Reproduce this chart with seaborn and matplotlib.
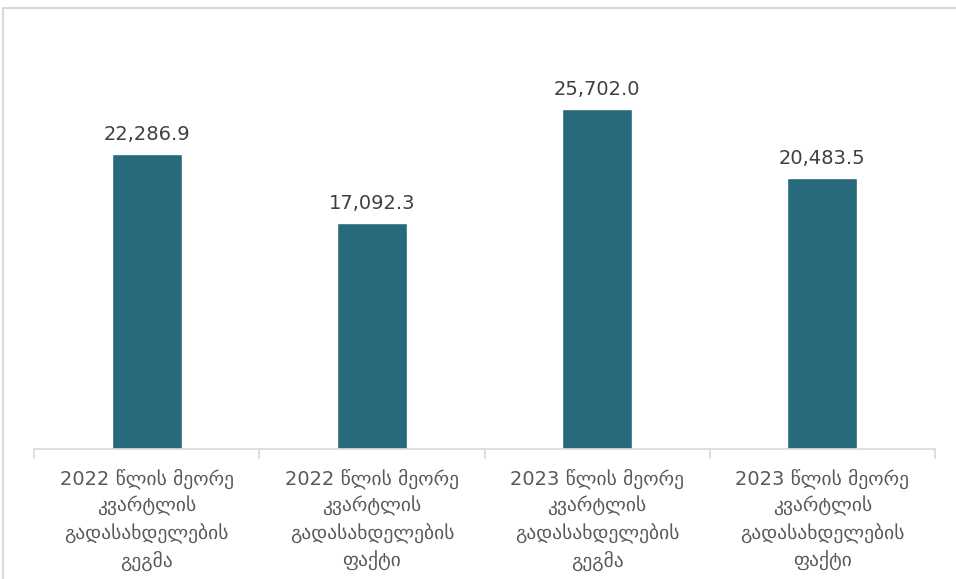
import matplotlib
matplotlib.use("Agg")
import matplotlib.pyplot as plt
import seaborn as sb
import pandas as pd

categories = [
    "2022 წლის მეორე\nკვარტლის\nგადასახდელების\nგეგმა",
    "2022 წლის მეორე\nკვარტლის\nგადასახდელების\nფაქტი",
    "2023 წლის მეორე\nკვარტლის\nგადასახდელების\nგეგმა",
    "2023 წლის მეორე\nკვარტლის\nგადასახდელების\nფაქტი",
]
values = [22286.9, 17092.3, 25702.0, 20483.5]

data = pd.DataFrame({"cat": categories, "val": values})

sb.set_style("white")
plt.rcParams["font.family"] = ["DejaVu Sans"]

fig = plt.figure(figsize=(9.56, 5.79), dpi=100)
ax = fig.add_axes([0.0356, 0.2245, 0.9424, 0.6855])

sb.barplot(data=data, x="cat", y="val", color="#276a7b", width=0.31,
           saturation=1, ax=ax)

# étiquettes de valeurs
for c in ax.containers:
    ax.bar_label(c, labels=[f"{v:,.1f}" for v in values], padding=7,
                 fontsize=14, color="#404040")

ax.set_ylim(0, 30000)
ax.set_xlim(-0.5, 3.5)
ax.set_xlabel("")
ax.set_ylabel("")
ax.set_yticks([])

for s in ["top", "right", "left"]:
    ax.spines[s].set_visible(False)
ax.spines["bottom"].set_color("#d9d9d9")
ax.spines["bottom"].set_linewidth(1.2)

ax.set_xticks([-0.5, 0.5, 1.5, 2.5, 3.5], minor=True)
ax.tick_params(axis="x", which="minor", bottom=True, length=7,
               color="#d9d9d9", width=1.2)
ax.tick_params(axis="x", which="major", bottom=True, length=0, pad=14)
for t in ax.get_xticklabels():
    t.set_fontsize(14)
    t.set_color("#595959")
    t.set_linespacing(1.45)
    t.set_verticalalignment("top")

# cadre du graphique
fig.add_artist(plt.Line2D([0.0035, 1.0], [0.986, 0.986], color="#d9d9d9", lw=1.5))
fig.add_artist(plt.Line2D([0.0035, 0.0035], [0.0, 0.986], color="#d9d9d9", lw=1.5))

fig.savefig("out.png", dpi=100, facecolor="white")
